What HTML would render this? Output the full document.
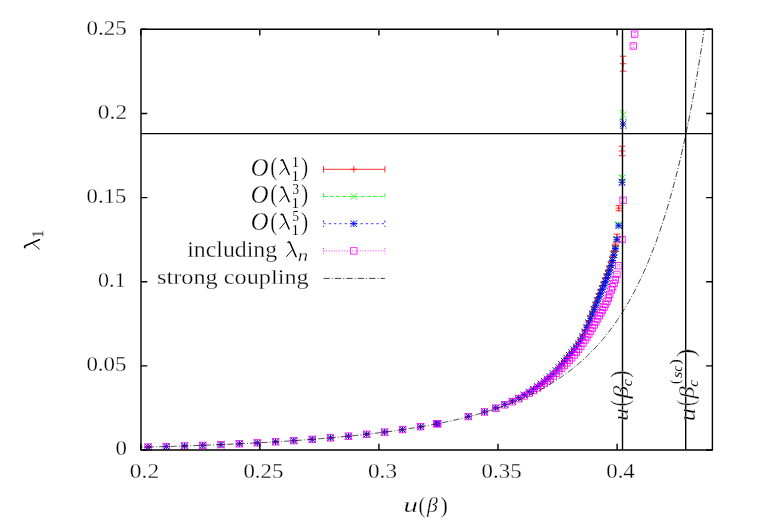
<!DOCTYPE html><html><head><meta charset="utf-8"><style>html,body{margin:0;padding:0;background:#fff}svg{display:block}text{font-family:"Liberation Serif",serif;fill:#000}</style></head><body>
<svg width="763" height="525" viewBox="0 0 763 525">
<rect width="763" height="525" fill="#fff"/>
<g fill="none" stroke-width="0.80">
<path d="M148.07,446.97V447.07M144.77,446.97H151.37M144.77,447.07H151.37" stroke="#ff0000"/><path d="M144.77,447.02H151.37M148.07,443.72V450.32" stroke="#ff0000"/><path d="M166.30,446.47V446.57M163.00,446.47H169.60M163.00,446.57H169.60" stroke="#ff0000"/><path d="M163.00,446.52H169.60M166.30,443.22V449.82" stroke="#ff0000"/><path d="M184.55,445.90V446.01M181.25,445.90H187.85M181.25,446.01H187.85" stroke="#ff0000"/><path d="M181.25,445.95H187.85M184.55,442.65V449.25" stroke="#ff0000"/><path d="M202.80,445.26V445.37M199.50,445.26H206.10M199.50,445.37H206.10" stroke="#ff0000"/><path d="M199.50,445.32H206.10M202.80,442.02V448.62" stroke="#ff0000"/><path d="M221.00,444.54V444.65M217.70,444.54H224.30M217.70,444.65H224.30" stroke="#ff0000"/><path d="M217.70,444.60H224.30M221.00,441.30V447.90" stroke="#ff0000"/><path d="M239.30,443.73V443.83M236.00,443.73H242.60M236.00,443.83H242.60" stroke="#ff0000"/><path d="M236.00,443.78H242.60M239.30,440.48V447.08" stroke="#ff0000"/><path d="M257.30,442.82V442.93M254.00,442.82H260.60M254.00,442.93H260.60" stroke="#ff0000"/><path d="M254.00,442.87H260.60M257.30,439.57V446.17" stroke="#ff0000"/><path d="M275.60,441.78V441.89M272.30,441.78H278.90M272.30,441.89H278.90" stroke="#ff0000"/><path d="M272.30,441.84H278.90M275.60,438.54V445.14" stroke="#ff0000"/><path d="M293.80,440.62V440.73M290.50,440.62H297.10M290.50,440.73H297.10" stroke="#ff0000"/><path d="M290.50,440.67H297.10M293.80,437.37V443.97" stroke="#ff0000"/><path d="M312.20,439.28V439.40M308.90,439.28H315.50M308.90,439.40H315.50" stroke="#ff0000"/><path d="M308.90,439.34H315.50M312.20,436.04V442.64" stroke="#ff0000"/><path d="M330.50,437.78V437.90M327.20,437.78H333.80M327.20,437.90H333.80" stroke="#ff0000"/><path d="M327.20,437.84H333.80M330.50,434.54V441.14" stroke="#ff0000"/><path d="M348.50,436.11V436.23M345.20,436.11H351.80M345.20,436.23H351.80" stroke="#ff0000"/><path d="M345.20,436.17H351.80M348.50,432.87V439.47" stroke="#ff0000"/><path d="M366.70,434.18V434.32M363.40,434.18H370.00M363.40,434.32H370.00" stroke="#ff0000"/><path d="M363.40,434.25H370.00M366.70,430.95V437.55" stroke="#ff0000"/><path d="M384.60,432.02V432.16M381.30,432.02H387.90M381.30,432.16H387.90" stroke="#ff0000"/><path d="M381.30,432.09H387.90M384.60,428.79V435.39" stroke="#ff0000"/><path d="M402.60,429.54V429.68M399.30,429.54H405.90M399.30,429.68H405.90" stroke="#ff0000"/><path d="M399.30,429.61H405.90M402.60,426.31V432.91" stroke="#ff0000"/><path d="M420.60,426.68V426.83M417.30,426.68H423.90M417.30,426.83H423.90" stroke="#ff0000"/><path d="M417.30,426.75H423.90M420.60,423.45V430.05" stroke="#ff0000"/><path d="M436.80,423.72V423.88M433.50,423.72H440.10M433.50,423.88H440.10" stroke="#ff0000"/><path d="M433.50,423.80H440.10M436.80,420.50V427.10" stroke="#ff0000"/><path d="M437.80,423.72V423.88M434.50,423.72H441.10M434.50,423.88H441.10" stroke="#ff0000"/><path d="M434.50,423.80H441.10M437.80,420.50V427.10" stroke="#ff0000"/><path d="M468.30,416.41V416.59M465.00,416.41H471.60M465.00,416.59H471.60" stroke="#ff0000"/><path d="M465.00,416.50H471.60M468.30,413.20V419.80" stroke="#ff0000"/><path d="M484.50,411.81V411.99M481.20,411.81H487.80M481.20,411.99H487.80" stroke="#ff0000"/><path d="M481.20,411.90H487.80M484.50,408.60V415.20" stroke="#ff0000"/><path d="M495.80,407.80V408.00M492.50,407.80H499.10M492.50,408.00H499.10" stroke="#ff0000"/><path d="M492.50,407.90H499.10M495.80,404.60V411.20" stroke="#ff0000"/><path d="M504.80,404.30V404.50M501.50,404.30H508.10M501.50,404.50H508.10" stroke="#ff0000"/><path d="M501.50,404.40H508.10M504.80,401.10V407.70" stroke="#ff0000"/><path d="M512.30,400.99V401.21M509.00,400.99H515.60M509.00,401.21H515.60" stroke="#ff0000"/><path d="M509.00,401.10H515.60M512.30,397.80V404.40" stroke="#ff0000"/><path d="M518.80,397.87V398.13M515.50,397.87H522.10M515.50,398.13H522.10" stroke="#ff0000"/><path d="M515.50,398.00H522.10M518.80,394.70V401.30" stroke="#ff0000"/><path d="M524.30,394.85V395.15M521.00,394.85H527.60M521.00,395.15H527.60" stroke="#ff0000"/><path d="M521.00,395.00H527.60M524.30,391.70V398.30" stroke="#ff0000"/><path d="M529.20,391.84V392.16M525.90,391.84H532.50M525.90,392.16H532.50" stroke="#ff0000"/><path d="M525.90,392.00H532.50M529.20,388.70V395.30" stroke="#ff0000"/><path d="M533.50,389.02V389.38M530.20,389.02H536.80M530.20,389.38H536.80" stroke="#ff0000"/><path d="M530.20,389.20H536.80M533.50,385.90V392.50" stroke="#ff0000"/><path d="M537.50,386.40V386.80M534.20,386.40H540.80M534.20,386.80H540.80" stroke="#ff0000"/><path d="M534.20,386.60H540.80M537.50,383.30V389.90" stroke="#ff0000"/><path d="M541.00,383.79V384.21M537.70,383.79H544.30M537.70,384.21H544.30" stroke="#ff0000"/><path d="M537.70,384.00H544.30M541.00,380.70V387.30" stroke="#ff0000"/><path d="M544.40,381.17V381.63M541.10,381.17H547.70M541.10,381.63H547.70" stroke="#ff0000"/><path d="M541.10,381.40H547.70M544.40,378.10V384.70" stroke="#ff0000"/><path d="M547.30,378.75V379.23M544.00,378.75H550.60M544.00,379.23H550.60" stroke="#ff0000"/><path d="M544.00,378.99H550.60M547.30,375.69V382.29" stroke="#ff0000"/><path d="M550.10,376.40V376.90M546.80,376.40H553.40M546.80,376.90H553.40" stroke="#ff0000"/><path d="M546.80,376.65H553.40M550.10,373.35V379.95" stroke="#ff0000"/><path d="M553.20,373.34V373.87M549.90,373.34H556.50M549.90,373.87H556.50" stroke="#ff0000"/><path d="M549.90,373.61H556.50M553.20,370.31V376.91" stroke="#ff0000"/><path d="M556.10,370.21V370.77M552.80,370.21H559.40M552.80,370.77H559.40" stroke="#ff0000"/><path d="M552.80,370.49H559.40M556.10,367.19V373.79" stroke="#ff0000"/><path d="M558.90,367.01V367.60M555.60,367.01H562.20M555.60,367.60H562.20" stroke="#ff0000"/><path d="M555.60,367.30H562.20M558.90,364.00V370.60" stroke="#ff0000"/><path d="M561.60,363.81V364.43M558.30,363.81H564.90M558.30,364.43H564.90" stroke="#ff0000"/><path d="M558.30,364.12H564.90M561.60,360.82V367.42" stroke="#ff0000"/><path d="M564.30,360.54V361.19M561.00,360.54H567.60M561.00,361.19H567.60" stroke="#ff0000"/><path d="M561.00,360.86H567.60M564.30,357.56V364.16" stroke="#ff0000"/><path d="M566.90,357.39V358.06M563.60,357.39H570.20M563.60,358.06H570.20" stroke="#ff0000"/><path d="M563.60,357.72H570.20M566.90,354.42V361.02" stroke="#ff0000"/><path d="M569.40,354.41V355.11M566.10,354.41H572.70M566.10,355.11H572.70" stroke="#ff0000"/><path d="M566.10,354.76H572.70M569.40,351.46V358.06" stroke="#ff0000"/><path d="M571.70,351.64V352.36M568.40,351.64H575.00M568.40,352.36H575.00" stroke="#ff0000"/><path d="M568.40,352.00H575.00M571.70,348.70V355.30" stroke="#ff0000"/><path d="M574.10,348.61V349.37M570.80,348.61H577.40M570.80,349.37H577.40" stroke="#ff0000"/><path d="M570.80,348.99H577.40M574.10,345.69V352.29" stroke="#ff0000"/><path d="M576.40,345.50V346.29M573.10,345.50H579.70M573.10,346.29H579.70" stroke="#ff0000"/><path d="M573.10,345.90H579.70M576.40,342.60V349.20" stroke="#ff0000"/><path d="M578.60,342.25V343.07M575.30,342.25H581.90M575.30,343.07H581.90" stroke="#ff0000"/><path d="M575.30,342.66H581.90M578.60,339.36V345.96" stroke="#ff0000"/><path d="M580.80,338.64V339.50M577.50,338.64H584.10M577.50,339.50H584.10" stroke="#ff0000"/><path d="M577.50,339.07H584.10M580.80,335.77V342.37" stroke="#ff0000"/><path d="M582.90,334.62V335.50M579.60,334.62H586.20M579.60,335.50H586.20" stroke="#ff0000"/><path d="M579.60,335.06H586.20M582.90,331.76V338.36" stroke="#ff0000"/><path d="M585.00,329.89V330.81M581.70,329.89H588.30M581.70,330.81H588.30" stroke="#ff0000"/><path d="M581.70,330.35H588.30M585.00,327.05V333.65" stroke="#ff0000"/><path d="M586.90,325.24V326.19M583.60,325.24H590.20M583.60,326.19H590.20" stroke="#ff0000"/><path d="M583.60,325.72H590.20M586.90,322.42V329.02" stroke="#ff0000"/><path d="M588.80,320.48V321.46M585.50,320.48H592.10M585.50,321.46H592.10" stroke="#ff0000"/><path d="M585.50,320.97H592.10M588.80,317.67V324.27" stroke="#ff0000"/><path d="M590.64,315.92V316.93M587.34,315.92H593.94M587.34,316.93H593.94" stroke="#ff0000"/><path d="M587.34,316.42H593.94M590.64,313.12V319.72" stroke="#ff0000"/><path d="M592.44,311.30V312.34M589.14,311.30H595.74M589.14,312.34H595.74" stroke="#ff0000"/><path d="M589.14,311.82H595.74M592.44,308.52V315.12" stroke="#ff0000"/><path d="M594.21,306.64V307.72M590.91,306.64H597.51M590.91,307.72H597.51" stroke="#ff0000"/><path d="M590.91,307.18H597.51M594.21,303.88V310.48" stroke="#ff0000"/><path d="M595.93,302.04V303.15M592.63,302.04H599.23M592.63,303.15H599.23" stroke="#ff0000"/><path d="M592.63,302.59H599.23M595.93,299.29V305.89" stroke="#ff0000"/><path d="M597.62,297.59V298.74M594.32,297.59H600.92M594.32,298.74H600.92" stroke="#ff0000"/><path d="M594.32,298.17H600.92M597.62,294.87V301.47" stroke="#ff0000"/><path d="M599.28,293.37V294.55M595.98,293.37H602.58M595.98,294.55H602.58" stroke="#ff0000"/><path d="M595.98,293.96H602.58M599.28,290.66V297.26" stroke="#ff0000"/><path d="M600.89,289.31V290.53M597.59,289.31H604.19M597.59,290.53H604.19" stroke="#ff0000"/><path d="M597.59,289.92H604.19M600.89,286.62V293.22" stroke="#ff0000"/><path d="M602.47,285.33V286.57M599.17,285.33H605.77M599.17,286.57H605.77" stroke="#ff0000"/><path d="M599.17,285.95H605.77M602.47,282.65V289.25" stroke="#ff0000"/><path d="M604.01,281.39V282.67M600.71,281.39H607.31M600.71,282.67H607.31" stroke="#ff0000"/><path d="M600.71,282.03H607.31M604.01,278.73V285.33" stroke="#ff0000"/><path d="M605.51,277.51V278.81M602.21,277.51H608.81M602.21,278.81H608.81" stroke="#ff0000"/><path d="M602.21,278.16H608.81M605.51,274.86V281.46" stroke="#ff0000"/><path d="M606.98,273.74V275.08M603.68,273.74H610.28M603.68,275.08H610.28" stroke="#ff0000"/><path d="M603.68,274.41H610.28M606.98,271.11V277.71" stroke="#ff0000"/><path d="M608.41,269.88V271.27M605.11,269.88H611.71M605.11,271.27H611.71" stroke="#ff0000"/><path d="M605.11,270.58H611.71M608.41,267.28V273.88" stroke="#ff0000"/><path d="M609.80,265.68V267.12M606.50,265.68H613.10M606.50,267.12H613.10" stroke="#ff0000"/><path d="M606.50,266.40H613.10M609.80,263.10V269.70" stroke="#ff0000"/><path d="M611.20,261.14V262.66M607.90,261.14H614.50M607.90,262.66H614.50" stroke="#ff0000"/><path d="M607.90,261.90H614.50M611.20,258.60V265.20" stroke="#ff0000"/><path d="M612.60,256.10V257.70M609.30,256.10H615.90M609.30,257.70H615.90" stroke="#ff0000"/><path d="M609.30,256.90H615.90M612.60,253.60V260.20" stroke="#ff0000"/><path d="M614.00,250.60V252.42M610.70,250.60H617.30M610.70,252.42H617.30" stroke="#ff0000"/><path d="M610.70,251.51H617.30M614.00,248.21V254.81" stroke="#ff0000"/><path d="M615.40,244.10V246.50M612.10,244.10H618.70M612.10,246.50H618.70" stroke="#ff0000"/><path d="M612.10,245.30H618.70M615.40,242.00V248.60" stroke="#ff0000"/><path d="M616.90,234.10V241.10M613.60,234.10H620.20M613.60,241.10H620.20" stroke="#ff0000"/><path d="M613.60,237.60H620.20M616.90,234.30V240.90" stroke="#ff0000"/><path d="M618.80,205.45V210.75M615.50,205.45H622.10M615.50,210.75H622.10" stroke="#ff0000"/><path d="M615.50,208.10H622.10M618.80,204.80V211.40" stroke="#ff0000"/><path d="M622.00,146.25V155.75M618.70,146.25H625.30M618.70,155.75H625.30" stroke="#ff0000"/><path d="M618.70,151.00H625.30M622.00,147.70V154.30" stroke="#ff0000"/><path d="M623.10,56.20V71.20M619.80,56.20H626.40M619.80,71.20H626.40" stroke="#ff0000"/><path d="M619.80,63.70H626.40M623.10,60.40V67.00" stroke="#ff0000"/><path d="M144.77,443.72L151.37,450.32M144.77,450.32L151.37,443.72" stroke="#00ff00"/><path d="M163.00,443.22L169.60,449.82M163.00,449.82L169.60,443.22" stroke="#00ff00"/><path d="M181.25,442.65L187.85,449.25M181.25,449.25L187.85,442.65" stroke="#00ff00"/><path d="M199.50,442.02L206.10,448.62M199.50,448.62L206.10,442.02" stroke="#00ff00"/><path d="M217.70,441.30L224.30,447.90M217.70,447.90L224.30,441.30" stroke="#00ff00"/><path d="M236.00,440.48L242.60,447.08M236.00,447.08L242.60,440.48" stroke="#00ff00"/><path d="M254.00,439.57L260.60,446.17M254.00,446.17L260.60,439.57" stroke="#00ff00"/><path d="M272.30,438.54L278.90,445.14M272.30,445.14L278.90,438.54" stroke="#00ff00"/><path d="M290.50,437.37L297.10,443.97M290.50,443.97L297.10,437.37" stroke="#00ff00"/><path d="M308.90,436.04L315.50,442.64M308.90,442.64L315.50,436.04" stroke="#00ff00"/><path d="M327.20,434.54L333.80,441.14M327.20,441.14L333.80,434.54" stroke="#00ff00"/><path d="M345.20,432.87L351.80,439.47M345.20,439.47L351.80,432.87" stroke="#00ff00"/><path d="M363.40,430.95L370.00,437.55M363.40,437.55L370.00,430.95" stroke="#00ff00"/><path d="M381.30,428.79L387.90,435.39M381.30,435.39L387.90,428.79" stroke="#00ff00"/><path d="M399.30,426.31L405.90,432.91M399.30,432.91L405.90,426.31" stroke="#00ff00"/><path d="M417.30,423.45L423.90,430.05M417.30,430.05L423.90,423.45" stroke="#00ff00"/><path d="M433.50,420.50L440.10,427.10M433.50,427.10L440.10,420.50" stroke="#00ff00"/><path d="M434.50,420.50L441.10,427.10M434.50,427.10L441.10,420.50" stroke="#00ff00"/><path d="M465.00,413.20L471.60,419.80M465.00,419.80L471.60,413.20" stroke="#00ff00"/><path d="M481.20,408.60L487.80,415.20M481.20,415.20L487.80,408.60" stroke="#00ff00"/><path d="M492.50,404.60L499.10,411.20M492.50,411.20L499.10,404.60" stroke="#00ff00"/><path d="M501.50,401.10L508.10,407.70M501.50,407.70L508.10,401.10" stroke="#00ff00"/><path d="M509.00,397.80L515.60,404.40M509.00,404.40L515.60,397.80" stroke="#00ff00"/><path d="M515.50,394.70L522.10,401.30M515.50,401.30L522.10,394.70" stroke="#00ff00"/><path d="M521.00,391.70L527.60,398.30M521.00,398.30L527.60,391.70" stroke="#00ff00"/><path d="M525.90,388.70L532.50,395.30M525.90,395.30L532.50,388.70" stroke="#00ff00"/><path d="M530.20,385.90L536.80,392.50M530.20,392.50L536.80,385.90" stroke="#00ff00"/><path d="M534.20,383.30L540.80,389.90M534.20,389.90L540.80,383.30" stroke="#00ff00"/><path d="M537.70,380.70L544.30,387.30M537.70,387.30L544.30,380.70" stroke="#00ff00"/><path d="M541.10,378.10L547.70,384.70M541.10,384.70L547.70,378.10" stroke="#00ff00"/><path d="M544.00,375.70L550.60,382.30M544.00,382.30L550.60,375.70" stroke="#00ff00"/><path d="M546.80,373.40L553.40,380.00M546.80,380.00L553.40,373.40" stroke="#00ff00"/><path d="M549.90,370.42L556.50,377.02M549.90,377.02L556.50,370.42" stroke="#00ff00"/><path d="M552.80,367.38L559.40,373.98M552.80,373.98L559.40,367.38" stroke="#00ff00"/><path d="M555.60,364.27L562.20,370.87M555.60,370.87L562.20,364.27" stroke="#00ff00"/><path d="M558.30,361.17L564.90,367.77M558.30,367.77L564.90,361.17" stroke="#00ff00"/><path d="M561.00,358.00L567.60,364.60M561.00,364.60L567.60,358.00" stroke="#00ff00"/><path d="M563.60,354.95L570.20,361.55M563.60,361.55L570.20,354.95" stroke="#00ff00"/><path d="M566.10,352.09L572.70,358.69M566.10,358.69L572.70,352.09" stroke="#00ff00"/><path d="M568.40,349.44L575.00,356.04M568.40,356.04L575.00,349.44" stroke="#00ff00"/><path d="M570.80,346.55L577.40,353.15M570.80,353.15L577.40,346.55" stroke="#00ff00"/><path d="M573.10,343.57L579.70,350.17M573.10,350.17L579.70,343.57" stroke="#00ff00"/><path d="M575.30,340.47L581.90,347.07M575.30,347.07L581.90,340.47" stroke="#00ff00"/><path d="M577.50,337.03L584.10,343.63M577.50,343.63L584.10,337.03" stroke="#00ff00"/><path d="M579.60,333.18L586.20,339.78M579.60,339.78L586.20,333.18" stroke="#00ff00"/><path d="M581.70,328.63L588.30,335.23M581.70,335.23L588.30,328.63" stroke="#00ff00"/><path d="M583.60,324.16L590.20,330.76M583.60,330.76L590.20,324.16" stroke="#00ff00"/><path d="M585.50,319.56L592.10,326.16M585.50,326.16L592.10,319.56" stroke="#00ff00"/><path d="M587.34,315.18L593.94,321.78M587.34,321.78L593.94,315.18" stroke="#00ff00"/><path d="M592.44,313.75V314.35M589.14,313.75H595.74M589.14,314.35H595.74" stroke="#00ff00" stroke-dasharray="4.2,2" stroke-width="0.6"/><path d="M589.14,310.75L595.74,317.35M589.14,317.35L595.74,310.75" stroke="#00ff00"/><path d="M594.21,309.27V309.90M590.91,309.27H597.51M590.91,309.90H597.51" stroke="#00ff00" stroke-dasharray="4.2,2" stroke-width="0.6"/><path d="M590.91,306.28L597.51,312.88M590.91,312.88L597.51,306.28" stroke="#00ff00"/><path d="M595.93,304.86V305.51M592.63,304.86H599.23M592.63,305.51H599.23" stroke="#00ff00" stroke-dasharray="4.2,2" stroke-width="0.6"/><path d="M592.63,301.88L599.23,308.48M592.63,308.48L599.23,301.88" stroke="#00ff00"/><path d="M597.62,300.60V301.27M594.32,300.60H600.92M594.32,301.27H600.92" stroke="#00ff00" stroke-dasharray="4.2,2" stroke-width="0.6"/><path d="M594.32,297.63L600.92,304.23M594.32,304.23L600.92,297.63" stroke="#00ff00"/><path d="M599.28,296.55V297.23M595.98,296.55H602.58M595.98,297.23H602.58" stroke="#00ff00" stroke-dasharray="4.2,2" stroke-width="0.6"/><path d="M595.98,293.59L602.58,300.19M595.98,300.19L602.58,293.59" stroke="#00ff00"/><path d="M600.89,292.65V293.36M597.59,292.65H604.19M597.59,293.36H604.19" stroke="#00ff00" stroke-dasharray="4.2,2" stroke-width="0.6"/><path d="M597.59,289.71L604.19,296.31M597.59,296.31L604.19,289.71" stroke="#00ff00"/><path d="M602.47,288.85V289.57M599.17,288.85H605.77M599.17,289.57H605.77" stroke="#00ff00" stroke-dasharray="4.2,2" stroke-width="0.6"/><path d="M599.17,285.91L605.77,292.51M599.17,292.51L605.77,285.91" stroke="#00ff00"/><path d="M604.01,285.07V285.82M600.71,285.07H607.31M600.71,285.82H607.31" stroke="#00ff00" stroke-dasharray="4.2,2" stroke-width="0.6"/><path d="M600.71,282.14L607.31,288.74M600.71,288.74L607.31,282.14" stroke="#00ff00"/><path d="M605.51,281.30V282.05M602.21,281.30H608.81M602.21,282.05H608.81" stroke="#00ff00" stroke-dasharray="4.2,2" stroke-width="0.6"/><path d="M602.21,278.37L608.81,284.97M602.21,284.97L608.81,278.37" stroke="#00ff00"/><path d="M606.98,277.55V278.33M603.68,277.55H610.28M603.68,278.33H610.28" stroke="#00ff00" stroke-dasharray="4.2,2" stroke-width="0.6"/><path d="M603.68,274.64L610.28,281.24M603.68,281.24L610.28,274.64" stroke="#00ff00"/><path d="M608.41,273.67V274.48M605.11,273.67H611.71M605.11,274.48H611.71" stroke="#00ff00" stroke-dasharray="4.2,2" stroke-width="0.6"/><path d="M605.11,270.78L611.71,277.38M605.11,277.38L611.71,270.78" stroke="#00ff00"/><path d="M609.80,269.44V270.28M606.50,269.44H613.10M606.50,270.28H613.10" stroke="#00ff00" stroke-dasharray="4.2,2" stroke-width="0.6"/><path d="M606.50,266.56L613.10,273.16M606.50,273.16L613.10,266.56" stroke="#00ff00"/><path d="M611.20,264.87V265.75M607.90,264.87H614.50M607.90,265.75H614.50" stroke="#00ff00" stroke-dasharray="4.2,2" stroke-width="0.6"/><path d="M607.90,262.01L614.50,268.61M607.90,268.61L614.50,262.01" stroke="#00ff00"/><path d="M612.60,259.79V260.71M609.30,259.79H615.90M609.30,260.71H615.90" stroke="#00ff00" stroke-dasharray="4.2,2" stroke-width="0.6"/><path d="M609.30,256.95L615.90,263.55M609.30,263.55L615.90,256.95" stroke="#00ff00"/><path d="M614.00,254.15V255.21M610.70,254.15H617.30M610.70,255.21H617.30" stroke="#00ff00" stroke-dasharray="4.2,2" stroke-width="0.6"/><path d="M610.70,251.38L617.30,257.98M610.70,257.98L617.30,251.38" stroke="#00ff00"/><path d="M615.40,247.40V248.80M612.10,247.40H618.70M612.10,248.80H618.70" stroke="#00ff00" stroke-dasharray="4.2,2" stroke-width="0.6"/><path d="M612.10,244.80L618.70,251.40M612.10,251.40L618.70,244.80" stroke="#00ff00"/><path d="M616.90,237.07V241.13M613.60,237.07H620.20M613.60,241.13H620.20" stroke="#00ff00" stroke-dasharray="4.2,2" stroke-width="0.6"/><path d="M613.60,235.80L620.20,242.40M613.60,242.40L620.20,235.80" stroke="#00ff00"/><path d="M618.80,222.96V226.04M615.50,222.96H622.10M615.50,226.04H622.10" stroke="#00ff00" stroke-dasharray="4.2,2" stroke-width="0.6"/><path d="M615.50,221.20L622.10,227.80M615.50,227.80L622.10,221.20" stroke="#00ff00"/><path d="M622.00,175.35V180.86M618.70,175.35H625.30M618.70,180.86H625.30" stroke="#00ff00" stroke-dasharray="4.2,2" stroke-width="0.6"/><path d="M618.70,174.80L625.30,181.40M618.70,181.40L625.30,174.80" stroke="#00ff00"/><path d="M623.10,110.35V119.05M619.80,110.35H626.40M619.80,119.05H626.40" stroke="#00ff00" stroke-dasharray="4.2,2" stroke-width="0.6"/><path d="M619.80,111.40L626.40,118.00M619.80,118.00L626.40,111.40" stroke="#00ff00"/><path d="M144.77,447.02H151.37M148.07,443.72V450.32M144.77,443.72L151.37,450.32M144.77,450.32L151.37,443.72" stroke="#0000ff" stroke-width="0.92"/><path d="M163.00,446.52H169.60M166.30,443.22V449.82M163.00,443.22L169.60,449.82M163.00,449.82L169.60,443.22" stroke="#0000ff" stroke-width="0.92"/><path d="M181.25,445.95H187.85M184.55,442.65V449.25M181.25,442.65L187.85,449.25M181.25,449.25L187.85,442.65" stroke="#0000ff" stroke-width="0.92"/><path d="M199.50,445.32H206.10M202.80,442.02V448.62M199.50,442.02L206.10,448.62M199.50,448.62L206.10,442.02" stroke="#0000ff" stroke-width="0.92"/><path d="M217.70,444.60H224.30M221.00,441.30V447.90M217.70,441.30L224.30,447.90M217.70,447.90L224.30,441.30" stroke="#0000ff" stroke-width="0.92"/><path d="M236.00,443.78H242.60M239.30,440.48V447.08M236.00,440.48L242.60,447.08M236.00,447.08L242.60,440.48" stroke="#0000ff" stroke-width="0.92"/><path d="M254.00,442.87H260.60M257.30,439.57V446.17M254.00,439.57L260.60,446.17M254.00,446.17L260.60,439.57" stroke="#0000ff" stroke-width="0.92"/><path d="M272.30,441.84H278.90M275.60,438.54V445.14M272.30,438.54L278.90,445.14M272.30,445.14L278.90,438.54" stroke="#0000ff" stroke-width="0.92"/><path d="M290.50,440.67H297.10M293.80,437.37V443.97M290.50,437.37L297.10,443.97M290.50,443.97L297.10,437.37" stroke="#0000ff" stroke-width="0.92"/><path d="M308.90,439.34H315.50M312.20,436.04V442.64M308.90,436.04L315.50,442.64M308.90,442.64L315.50,436.04" stroke="#0000ff" stroke-width="0.92"/><path d="M327.20,437.84H333.80M330.50,434.54V441.14M327.20,434.54L333.80,441.14M327.20,441.14L333.80,434.54" stroke="#0000ff" stroke-width="0.92"/><path d="M345.20,436.17H351.80M348.50,432.87V439.47M345.20,432.87L351.80,439.47M345.20,439.47L351.80,432.87" stroke="#0000ff" stroke-width="0.92"/><path d="M363.40,434.25H370.00M366.70,430.95V437.55M363.40,430.95L370.00,437.55M363.40,437.55L370.00,430.95" stroke="#0000ff" stroke-width="0.92"/><path d="M381.30,432.09H387.90M384.60,428.79V435.39M381.30,428.79L387.90,435.39M381.30,435.39L387.90,428.79" stroke="#0000ff" stroke-width="0.92"/><path d="M399.30,429.61H405.90M402.60,426.31V432.91M399.30,426.31L405.90,432.91M399.30,432.91L405.90,426.31" stroke="#0000ff" stroke-width="0.92"/><path d="M417.30,426.75H423.90M420.60,423.45V430.05M417.30,423.45L423.90,430.05M417.30,430.05L423.90,423.45" stroke="#0000ff" stroke-width="0.92"/><path d="M433.50,423.80H440.10M436.80,420.50V427.10M433.50,420.50L440.10,427.10M433.50,427.10L440.10,420.50" stroke="#0000ff" stroke-width="0.92"/><path d="M434.50,423.80H441.10M437.80,420.50V427.10M434.50,420.50L441.10,427.10M434.50,427.10L441.10,420.50" stroke="#0000ff" stroke-width="0.92"/><path d="M465.00,416.50H471.60M468.30,413.20V419.80M465.00,413.20L471.60,419.80M465.00,419.80L471.60,413.20" stroke="#0000ff" stroke-width="0.92"/><path d="M481.20,411.90H487.80M484.50,408.60V415.20M481.20,408.60L487.80,415.20M481.20,415.20L487.80,408.60" stroke="#0000ff" stroke-width="0.92"/><path d="M492.50,407.90H499.10M495.80,404.60V411.20M492.50,404.60L499.10,411.20M492.50,411.20L499.10,404.60" stroke="#0000ff" stroke-width="0.92"/><path d="M501.50,404.40H508.10M504.80,401.10V407.70M501.50,401.10L508.10,407.70M501.50,407.70L508.10,401.10" stroke="#0000ff" stroke-width="0.92"/><path d="M509.00,401.10H515.60M512.30,397.80V404.40M509.00,397.80L515.60,404.40M509.00,404.40L515.60,397.80" stroke="#0000ff" stroke-width="0.92"/><path d="M515.50,398.00H522.10M518.80,394.70V401.30M515.50,394.70L522.10,401.30M515.50,401.30L522.10,394.70" stroke="#0000ff" stroke-width="0.92"/><path d="M521.00,395.00H527.60M524.30,391.70V398.30M521.00,391.70L527.60,398.30M521.00,398.30L527.60,391.70" stroke="#0000ff" stroke-width="0.92"/><path d="M525.90,392.00H532.50M529.20,388.70V395.30M525.90,388.70L532.50,395.30M525.90,395.30L532.50,388.70" stroke="#0000ff" stroke-width="0.92"/><path d="M530.20,389.20H536.80M533.50,385.90V392.50M530.20,385.90L536.80,392.50M530.20,392.50L536.80,385.90" stroke="#0000ff" stroke-width="0.92"/><path d="M534.20,386.60H540.80M537.50,383.30V389.90M534.20,383.30L540.80,389.90M534.20,389.90L540.80,383.30" stroke="#0000ff" stroke-width="0.92"/><path d="M537.70,384.00H544.30M541.00,380.70V387.30M537.70,380.70L544.30,387.30M537.70,387.30L544.30,380.70" stroke="#0000ff" stroke-width="0.92"/><path d="M541.10,381.40H547.70M544.40,378.10V384.70M541.10,378.10L547.70,384.70M541.10,384.70L547.70,378.10" stroke="#0000ff" stroke-width="0.92"/><path d="M544.00,379.00H550.60M547.30,375.70V382.30M544.00,375.70L550.60,382.30M544.00,382.30L550.60,375.70" stroke="#0000ff" stroke-width="0.92"/><path d="M546.80,376.70H553.40M550.10,373.40V380.00M546.80,373.40L553.40,380.00M546.80,380.00L553.40,373.40" stroke="#0000ff" stroke-width="0.92"/><path d="M549.90,373.72H556.50M553.20,370.42V377.02M549.90,370.42L556.50,377.02M549.90,377.02L556.50,370.42" stroke="#0000ff" stroke-width="0.92"/><path d="M552.80,370.68H559.40M556.10,367.38V373.98M552.80,367.38L559.40,373.98M552.80,373.98L559.40,367.38" stroke="#0000ff" stroke-width="0.92"/><path d="M555.60,367.57H562.20M558.90,364.27V370.87M555.60,364.27L562.20,370.87M555.60,370.87L562.20,364.27" stroke="#0000ff" stroke-width="0.92"/><path d="M558.30,364.47H564.90M561.60,361.17V367.77M558.30,361.17L564.90,367.77M558.30,367.77L564.90,361.17" stroke="#0000ff" stroke-width="0.92"/><path d="M561.00,361.30H567.60M564.30,358.00V364.60M561.00,358.00L567.60,364.60M561.00,364.60L567.60,358.00" stroke="#0000ff" stroke-width="0.92"/><path d="M563.60,358.25H570.20M566.90,354.95V361.55M563.60,354.95L570.20,361.55M563.60,361.55L570.20,354.95" stroke="#0000ff" stroke-width="0.92"/><path d="M566.10,355.39H572.70M569.40,352.09V358.69M566.10,352.09L572.70,358.69M566.10,358.69L572.70,352.09" stroke="#0000ff" stroke-width="0.92"/><path d="M568.40,352.74H575.00M571.70,349.44V356.04M568.40,349.44L575.00,356.04M568.40,356.04L575.00,349.44" stroke="#0000ff" stroke-width="0.92"/><path d="M570.80,349.85H577.40M574.10,346.55V353.15M570.80,346.55L577.40,353.15M570.80,353.15L577.40,346.55" stroke="#0000ff" stroke-width="0.92"/><path d="M573.10,346.87H579.70M576.40,343.57V350.17M573.10,343.57L579.70,350.17M573.10,350.17L579.70,343.57" stroke="#0000ff" stroke-width="0.92"/><path d="M575.30,343.77H581.90M578.60,340.47V347.07M575.30,340.47L581.90,347.07M575.30,347.07L581.90,340.47" stroke="#0000ff" stroke-width="0.92"/><path d="M577.50,340.33H584.10M580.80,337.03V343.63M577.50,337.03L584.10,343.63M577.50,343.63L584.10,337.03" stroke="#0000ff" stroke-width="0.92"/><path d="M579.60,336.48H586.20M582.90,333.18V339.78M579.60,333.18L586.20,339.78M579.60,339.78L586.20,333.18" stroke="#0000ff" stroke-width="0.92"/><path d="M581.70,331.93H588.30M585.00,328.63V335.23M581.70,328.63L588.30,335.23M581.70,335.23L588.30,328.63" stroke="#0000ff" stroke-width="0.92"/><path d="M583.60,327.46H590.20M586.90,324.16V330.76M583.60,324.16L590.20,330.76M583.60,330.76L590.20,324.16" stroke="#0000ff" stroke-width="0.92"/><path d="M585.50,322.86H592.10M588.80,319.56V326.16M585.50,319.56L592.10,326.16M585.50,326.16L592.10,319.56" stroke="#0000ff" stroke-width="0.92"/><path d="M587.34,318.48H593.94M590.64,315.18V321.78M587.34,315.18L593.94,321.78M587.34,321.78L593.94,315.18" stroke="#0000ff" stroke-width="0.92"/><path d="M592.44,313.75V314.35M589.14,313.75H595.74M589.14,314.35H595.74" stroke="#0000ff" stroke-dasharray="2.2,3.1" stroke-width="0.6"/><path d="M589.14,314.05H595.74M592.44,310.75V317.35M589.14,310.75L595.74,317.35M589.14,317.35L595.74,310.75" stroke="#0000ff" stroke-width="0.92"/><path d="M594.21,309.27V309.90M590.91,309.27H597.51M590.91,309.90H597.51" stroke="#0000ff" stroke-dasharray="2.2,3.1" stroke-width="0.6"/><path d="M590.91,309.58H597.51M594.21,306.28V312.88M590.91,306.28L597.51,312.88M590.91,312.88L597.51,306.28" stroke="#0000ff" stroke-width="0.92"/><path d="M595.93,304.86V305.51M592.63,304.86H599.23M592.63,305.51H599.23" stroke="#0000ff" stroke-dasharray="2.2,3.1" stroke-width="0.6"/><path d="M592.63,305.18H599.23M595.93,301.88V308.48M592.63,301.88L599.23,308.48M592.63,308.48L599.23,301.88" stroke="#0000ff" stroke-width="0.92"/><path d="M597.62,300.60V301.27M594.32,300.60H600.92M594.32,301.27H600.92" stroke="#0000ff" stroke-dasharray="2.2,3.1" stroke-width="0.6"/><path d="M594.32,300.93H600.92M597.62,297.63V304.23M594.32,297.63L600.92,304.23M594.32,304.23L600.92,297.63" stroke="#0000ff" stroke-width="0.92"/><path d="M599.28,296.55V297.23M595.98,296.55H602.58M595.98,297.23H602.58" stroke="#0000ff" stroke-dasharray="2.2,3.1" stroke-width="0.6"/><path d="M595.98,296.89H602.58M599.28,293.59V300.19M595.98,293.59L602.58,300.19M595.98,300.19L602.58,293.59" stroke="#0000ff" stroke-width="0.92"/><path d="M600.89,292.65V293.36M597.59,292.65H604.19M597.59,293.36H604.19" stroke="#0000ff" stroke-dasharray="2.2,3.1" stroke-width="0.6"/><path d="M597.59,293.01H604.19M600.89,289.71V296.31M597.59,289.71L604.19,296.31M597.59,296.31L604.19,289.71" stroke="#0000ff" stroke-width="0.92"/><path d="M602.47,288.85V289.58M599.17,288.85H605.77M599.17,289.58H605.77" stroke="#0000ff" stroke-dasharray="2.2,3.1" stroke-width="0.6"/><path d="M599.17,289.22H605.77M602.47,285.92V292.52M599.17,285.92L605.77,292.52M599.17,292.52L605.77,285.92" stroke="#0000ff" stroke-width="0.92"/><path d="M604.01,285.09V285.83M600.71,285.09H607.31M600.71,285.83H607.31" stroke="#0000ff" stroke-dasharray="2.2,3.1" stroke-width="0.6"/><path d="M600.71,285.46H607.31M604.01,282.16V288.76M600.71,282.16L607.31,288.76M600.71,288.76L607.31,282.16" stroke="#0000ff" stroke-width="0.92"/><path d="M605.51,281.33V282.09M602.21,281.33H608.81M602.21,282.09H608.81" stroke="#0000ff" stroke-dasharray="2.2,3.1" stroke-width="0.6"/><path d="M602.21,281.71H608.81M605.51,278.41V285.01M602.21,278.41L608.81,285.01M602.21,285.01L608.81,278.41" stroke="#0000ff" stroke-width="0.92"/><path d="M606.98,277.62V278.40M603.68,277.62H610.28M603.68,278.40H610.28" stroke="#0000ff" stroke-dasharray="2.2,3.1" stroke-width="0.6"/><path d="M603.68,278.01H610.28M606.98,274.71V281.31M603.68,274.71L610.28,281.31M603.68,281.31L610.28,274.71" stroke="#0000ff" stroke-width="0.92"/><path d="M608.41,273.77V274.58M605.11,273.77H611.71M605.11,274.58H611.71" stroke="#0000ff" stroke-dasharray="2.2,3.1" stroke-width="0.6"/><path d="M605.11,274.18H611.71M608.41,270.88V277.48M605.11,270.88L611.71,277.48M605.11,277.48L611.71,270.88" stroke="#0000ff" stroke-width="0.92"/><path d="M609.80,269.58V270.42M606.50,269.58H613.10M606.50,270.42H613.10" stroke="#0000ff" stroke-dasharray="2.2,3.1" stroke-width="0.6"/><path d="M606.50,270.00H613.10M609.80,266.70V273.30M606.50,266.70L613.10,273.30M606.50,273.30L613.10,266.70" stroke="#0000ff" stroke-width="0.92"/><path d="M611.20,265.06V265.94M607.90,265.06H614.50M607.90,265.94H614.50" stroke="#0000ff" stroke-dasharray="2.2,3.1" stroke-width="0.6"/><path d="M607.90,265.50H614.50M611.20,262.20V268.80M607.90,262.20L614.50,268.80M607.90,268.80L614.50,262.20" stroke="#0000ff" stroke-width="0.92"/><path d="M612.60,260.04V260.96M609.30,260.04H615.90M609.30,260.96H615.90" stroke="#0000ff" stroke-dasharray="2.2,3.1" stroke-width="0.6"/><path d="M609.30,260.50H615.90M612.60,257.20V263.80M609.30,257.20L615.90,263.80M609.30,263.80L615.90,257.20" stroke="#0000ff" stroke-width="0.92"/><path d="M614.00,254.47V255.53M610.70,254.47H617.30M610.70,255.53H617.30" stroke="#0000ff" stroke-dasharray="2.2,3.1" stroke-width="0.6"/><path d="M610.70,255.00H617.30M614.00,251.70V258.30M610.70,251.70L617.30,258.30M610.70,258.30L617.30,251.70" stroke="#0000ff" stroke-width="0.92"/><path d="M615.40,247.80V249.20M612.10,247.80H618.70M612.10,249.20H618.70" stroke="#0000ff" stroke-dasharray="2.2,3.1" stroke-width="0.6"/><path d="M612.10,248.50H618.70M615.40,245.20V251.80M612.10,245.20L618.70,251.80M612.10,251.80L618.70,245.20" stroke="#0000ff" stroke-width="0.92"/><path d="M616.90,237.57V241.63M613.60,237.57H620.20M613.60,241.63H620.20" stroke="#0000ff" stroke-dasharray="2.2,3.1" stroke-width="0.6"/><path d="M613.60,239.60H620.20M616.90,236.30V242.90M613.60,236.30L620.20,242.90M613.60,242.90L620.20,236.30" stroke="#0000ff" stroke-width="0.92"/><path d="M618.80,224.16V227.24M615.50,224.16H622.10M615.50,227.24H622.10" stroke="#0000ff" stroke-dasharray="2.2,3.1" stroke-width="0.6"/><path d="M615.50,225.70H622.10M618.80,222.40V229.00M615.50,222.40L622.10,229.00M615.50,229.00L622.10,222.40" stroke="#0000ff" stroke-width="0.92"/><path d="M622.00,179.55V185.06M618.70,179.55H625.30M618.70,185.06H625.30" stroke="#0000ff" stroke-dasharray="2.2,3.1" stroke-width="0.6"/><path d="M618.70,182.30H625.30M622.00,179.00V185.60M618.70,179.00L625.30,185.60M618.70,185.60L625.30,179.00" stroke="#0000ff" stroke-width="0.92"/><path d="M623.10,119.65V128.35M619.80,119.65H626.40M619.80,128.35H626.40" stroke="#0000ff" stroke-dasharray="2.2,3.1" stroke-width="0.6"/><path d="M619.80,124.00H626.40M623.10,120.70V127.30M619.80,120.70L626.40,127.30M619.80,127.30L626.40,120.70" stroke="#0000ff" stroke-width="0.92"/><rect x="144.87" y="443.82" width="6.40" height="6.40" stroke="#ff00ff"/><path d="M148.07,446.62V447.42M145.87,446.62H150.27M145.87,447.42H150.27" stroke="#ff00ff" stroke-dasharray="1,1.6"/><rect x="163.10" y="443.32" width="6.40" height="6.40" stroke="#ff00ff"/><path d="M166.30,446.12V446.92M164.10,446.12H168.50M164.10,446.92H168.50" stroke="#ff00ff" stroke-dasharray="1,1.6"/><rect x="181.35" y="442.75" width="6.40" height="6.40" stroke="#ff00ff"/><path d="M184.55,445.55V446.35M182.35,445.55H186.75M182.35,446.35H186.75" stroke="#ff00ff" stroke-dasharray="1,1.6"/><rect x="199.60" y="442.12" width="6.40" height="6.40" stroke="#ff00ff"/><path d="M202.80,444.92V445.72M200.60,444.92H205.00M200.60,445.72H205.00" stroke="#ff00ff" stroke-dasharray="1,1.6"/><rect x="217.80" y="441.40" width="6.40" height="6.40" stroke="#ff00ff"/><path d="M221.00,444.20V445.00M218.80,444.20H223.20M218.80,445.00H223.20" stroke="#ff00ff" stroke-dasharray="1,1.6"/><rect x="236.10" y="440.58" width="6.40" height="6.40" stroke="#ff00ff"/><path d="M239.30,443.38V444.18M237.10,443.38H241.50M237.10,444.18H241.50" stroke="#ff00ff" stroke-dasharray="1,1.6"/><rect x="254.10" y="439.67" width="6.40" height="6.40" stroke="#ff00ff"/><path d="M257.30,442.47V443.27M255.10,442.47H259.50M255.10,443.27H259.50" stroke="#ff00ff" stroke-dasharray="1,1.6"/><rect x="272.40" y="438.64" width="6.40" height="6.40" stroke="#ff00ff"/><path d="M275.60,441.44V442.24M273.40,441.44H277.80M273.40,442.24H277.80" stroke="#ff00ff" stroke-dasharray="1,1.6"/><rect x="290.60" y="437.47" width="6.40" height="6.40" stroke="#ff00ff"/><path d="M293.80,440.27V441.07M291.60,440.27H296.00M291.60,441.07H296.00" stroke="#ff00ff" stroke-dasharray="1,1.6"/><rect x="309.00" y="436.14" width="6.40" height="6.40" stroke="#ff00ff"/><path d="M312.20,438.94V439.74M310.00,438.94H314.40M310.00,439.74H314.40" stroke="#ff00ff" stroke-dasharray="1,1.6"/><rect x="327.30" y="434.64" width="6.40" height="6.40" stroke="#ff00ff"/><path d="M330.50,437.44V438.24M328.30,437.44H332.70M328.30,438.24H332.70" stroke="#ff00ff" stroke-dasharray="1,1.6"/><rect x="345.30" y="432.97" width="6.40" height="6.40" stroke="#ff00ff"/><path d="M348.50,435.77V436.57M346.30,435.77H350.70M346.30,436.57H350.70" stroke="#ff00ff" stroke-dasharray="1,1.6"/><rect x="363.50" y="431.05" width="6.40" height="6.40" stroke="#ff00ff"/><path d="M366.70,433.85V434.65M364.50,433.85H368.90M364.50,434.65H368.90" stroke="#ff00ff" stroke-dasharray="1,1.6"/><rect x="381.40" y="428.89" width="6.40" height="6.40" stroke="#ff00ff"/><path d="M384.60,431.69V432.49M382.40,431.69H386.80M382.40,432.49H386.80" stroke="#ff00ff" stroke-dasharray="1,1.6"/><rect x="399.40" y="426.41" width="6.40" height="6.40" stroke="#ff00ff"/><path d="M402.60,429.21V430.01M400.40,429.21H404.80M400.40,430.01H404.80" stroke="#ff00ff" stroke-dasharray="1,1.6"/><rect x="417.40" y="423.55" width="6.40" height="6.40" stroke="#ff00ff"/><path d="M420.60,426.35V427.15M418.40,426.35H422.80M418.40,427.15H422.80" stroke="#ff00ff" stroke-dasharray="1,1.6"/><rect x="433.60" y="420.60" width="6.40" height="6.40" stroke="#ff00ff"/><path d="M436.80,423.40V424.20M434.60,423.40H439.00M434.60,424.20H439.00" stroke="#ff00ff" stroke-dasharray="1,1.6"/><rect x="434.60" y="420.60" width="6.40" height="6.40" stroke="#ff00ff"/><path d="M437.80,423.40V424.20M435.60,423.40H440.00M435.60,424.20H440.00" stroke="#ff00ff" stroke-dasharray="1,1.6"/><rect x="465.10" y="413.40" width="6.40" height="6.40" stroke="#ff00ff"/><path d="M468.30,416.20V417.00M466.10,416.20H470.50M466.10,417.00H470.50" stroke="#ff00ff" stroke-dasharray="1,1.6"/><rect x="481.30" y="408.74" width="6.40" height="6.40" stroke="#ff00ff"/><path d="M484.50,411.54V412.34M482.30,411.54H486.70M482.30,412.34H486.70" stroke="#ff00ff" stroke-dasharray="1,1.6"/><rect x="492.60" y="405.00" width="6.40" height="6.40" stroke="#ff00ff"/><path d="M495.80,407.80V408.60M493.60,407.80H498.00M493.60,408.60H498.00" stroke="#ff00ff" stroke-dasharray="1,1.6"/><rect x="501.60" y="401.68" width="6.40" height="6.40" stroke="#ff00ff"/><path d="M504.80,404.48V405.28M502.60,404.48H507.00M502.60,405.28H507.00" stroke="#ff00ff" stroke-dasharray="1,1.6"/><rect x="509.10" y="398.59" width="6.40" height="6.40" stroke="#ff00ff"/><path d="M512.30,401.39V402.19M510.10,401.39H514.50M510.10,402.19H514.50" stroke="#ff00ff" stroke-dasharray="1,1.6"/><rect x="515.60" y="395.60" width="6.40" height="6.40" stroke="#ff00ff"/><path d="M518.80,398.40V399.20M516.60,398.40H521.00M516.60,399.20H521.00" stroke="#ff00ff" stroke-dasharray="1,1.6"/><rect x="521.10" y="392.77" width="6.40" height="6.40" stroke="#ff00ff"/><path d="M524.30,395.57V396.37M522.10,395.57H526.50M522.10,396.37H526.50" stroke="#ff00ff" stroke-dasharray="1,1.6"/><rect x="526.00" y="390.00" width="6.40" height="6.40" stroke="#ff00ff"/><path d="M529.20,392.80V393.60M527.00,392.80H531.40M527.00,393.60H531.40" stroke="#ff00ff" stroke-dasharray="1,1.6"/><rect x="530.30" y="387.36" width="6.40" height="6.40" stroke="#ff00ff"/><path d="M533.50,390.16V390.96M531.30,390.16H535.70M531.30,390.96H535.70" stroke="#ff00ff" stroke-dasharray="1,1.6"/><rect x="534.30" y="384.73" width="6.40" height="6.40" stroke="#ff00ff"/><path d="M537.50,387.53V388.33M535.30,387.53H539.70M535.30,388.33H539.70" stroke="#ff00ff" stroke-dasharray="1,1.6"/><rect x="537.80" y="382.30" width="6.40" height="6.40" stroke="#ff00ff"/><path d="M541.00,385.10V385.90M538.80,385.10H543.20M538.80,385.90H543.20" stroke="#ff00ff" stroke-dasharray="1,1.6"/><rect x="541.20" y="379.81" width="6.40" height="6.40" stroke="#ff00ff"/><path d="M544.40,382.61V383.41M542.20,382.61H546.60M542.20,383.41H546.60" stroke="#ff00ff" stroke-dasharray="1,1.6"/><rect x="544.10" y="377.58" width="6.40" height="6.40" stroke="#ff00ff"/><path d="M547.30,380.38V381.18M545.10,380.38H549.50M545.10,381.18H549.50" stroke="#ff00ff" stroke-dasharray="1,1.6"/><rect x="546.90" y="375.34" width="6.40" height="6.40" stroke="#ff00ff"/><path d="M550.10,378.14V378.94M547.90,378.14H552.30M547.90,378.94H552.30" stroke="#ff00ff" stroke-dasharray="1,1.6"/><rect x="550.00" y="372.74" width="6.40" height="6.40" stroke="#ff00ff"/><path d="M553.20,375.54V376.34M551.00,375.54H555.40M551.00,376.34H555.40" stroke="#ff00ff" stroke-dasharray="1,1.6"/><rect x="552.90" y="370.20" width="6.40" height="6.40" stroke="#ff00ff"/><path d="M556.10,373.00V373.80M553.90,373.00H558.30M553.90,373.80H558.30" stroke="#ff00ff" stroke-dasharray="1,1.6"/><rect x="555.70" y="367.64" width="6.40" height="6.40" stroke="#ff00ff"/><path d="M558.90,370.44V371.24M556.70,370.44H561.10M556.70,371.24H561.10" stroke="#ff00ff" stroke-dasharray="1,1.6"/><rect x="558.40" y="365.08" width="6.40" height="6.40" stroke="#ff00ff"/><path d="M561.60,367.88V368.68M559.40,367.88H563.80M559.40,368.68H563.80" stroke="#ff00ff" stroke-dasharray="1,1.6"/><rect x="561.10" y="362.41" width="6.40" height="6.40" stroke="#ff00ff"/><path d="M564.30,365.21V366.01M562.10,365.21H566.50M562.10,366.01H566.50" stroke="#ff00ff" stroke-dasharray="1,1.6"/><rect x="563.70" y="359.75" width="6.40" height="6.40" stroke="#ff00ff"/><path d="M566.90,362.55V363.35M564.70,362.55H569.10M564.70,363.35H569.10" stroke="#ff00ff" stroke-dasharray="1,1.6"/><rect x="566.20" y="357.10" width="6.40" height="6.40" stroke="#ff00ff"/><path d="M569.40,359.90V360.70M567.20,359.90H571.60M567.20,360.70H571.60" stroke="#ff00ff" stroke-dasharray="1,1.6"/><rect x="568.50" y="354.58" width="6.40" height="6.40" stroke="#ff00ff"/><path d="M571.70,357.38V358.18M569.50,357.38H573.90M569.50,358.18H573.90" stroke="#ff00ff" stroke-dasharray="1,1.6"/><rect x="570.90" y="351.82" width="6.40" height="6.40" stroke="#ff00ff"/><path d="M574.10,354.62V355.42M571.90,354.62H576.30M571.90,355.42H576.30" stroke="#ff00ff" stroke-dasharray="1,1.6"/><rect x="573.20" y="348.94" width="6.40" height="6.40" stroke="#ff00ff"/><path d="M576.40,351.74V352.54M574.20,351.74H578.60M574.20,352.54H578.60" stroke="#ff00ff" stroke-dasharray="1,1.6"/><rect x="575.40" y="346.00" width="6.40" height="6.40" stroke="#ff00ff"/><path d="M578.60,348.80V349.60M576.40,348.80H580.80M576.40,349.60H580.80" stroke="#ff00ff" stroke-dasharray="1,1.6"/><rect x="577.60" y="342.91" width="6.40" height="6.40" stroke="#ff00ff"/><path d="M580.80,345.71V346.51M578.60,345.71H583.00M578.60,346.51H583.00" stroke="#ff00ff" stroke-dasharray="1,1.6"/><rect x="579.70" y="339.84" width="6.40" height="6.40" stroke="#ff00ff"/><path d="M582.90,342.64V343.44M580.70,342.64H585.10M580.70,343.44H585.10" stroke="#ff00ff" stroke-dasharray="1,1.6"/><rect x="581.80" y="336.70" width="6.40" height="6.40" stroke="#ff00ff"/><path d="M585.00,339.50V340.30M582.80,339.50H587.20M582.80,340.30H587.20" stroke="#ff00ff" stroke-dasharray="1,1.6"/><rect x="583.70" y="333.80" width="6.40" height="6.40" stroke="#ff00ff"/><path d="M586.90,336.60V337.40M584.70,336.60H589.10M584.70,337.40H589.10" stroke="#ff00ff" stroke-dasharray="1,1.6"/><rect x="585.60" y="330.83" width="6.40" height="6.40" stroke="#ff00ff"/><path d="M588.80,333.63V334.43M586.60,333.63H591.00M586.60,334.43H591.00" stroke="#ff00ff" stroke-dasharray="1,1.6"/><rect x="587.44" y="327.83" width="6.40" height="6.40" stroke="#ff00ff"/><path d="M590.64,330.63V331.43M588.44,330.63H592.84M588.44,331.43H592.84" stroke="#ff00ff" stroke-dasharray="1,1.6"/><rect x="589.24" y="324.80" width="6.40" height="6.40" stroke="#ff00ff"/><path d="M592.44,327.60V328.40M590.24,327.60H594.64M590.24,328.40H594.64" stroke="#ff00ff" stroke-dasharray="1,1.6"/><rect x="591.01" y="321.75" width="6.40" height="6.40" stroke="#ff00ff"/><path d="M594.21,324.55V325.35M592.01,324.55H596.41M592.01,325.35H596.41" stroke="#ff00ff" stroke-dasharray="1,1.6"/><rect x="592.73" y="318.69" width="6.40" height="6.40" stroke="#ff00ff"/><path d="M595.93,321.49V322.29M593.73,321.49H598.13M593.73,322.29H598.13" stroke="#ff00ff" stroke-dasharray="1,1.6"/><rect x="594.42" y="315.63" width="6.40" height="6.40" stroke="#ff00ff"/><path d="M597.62,318.43V319.23M595.42,318.43H599.82M595.42,319.23H599.82" stroke="#ff00ff" stroke-dasharray="1,1.6"/><rect x="596.08" y="312.59" width="6.40" height="6.40" stroke="#ff00ff"/><path d="M599.28,315.39V316.19M597.08,315.39H601.48M597.08,316.19H601.48" stroke="#ff00ff" stroke-dasharray="1,1.6"/><rect x="597.69" y="309.67" width="6.40" height="6.40" stroke="#ff00ff"/><path d="M600.89,312.47V313.27M598.69,312.47H603.09M598.69,313.27H603.09" stroke="#ff00ff" stroke-dasharray="1,1.6"/><rect x="599.27" y="306.84" width="6.40" height="6.40" stroke="#ff00ff"/><path d="M602.47,309.64V310.44M600.27,309.64H604.67M600.27,310.44H604.67" stroke="#ff00ff" stroke-dasharray="1,1.6"/><rect x="600.81" y="304.00" width="6.40" height="6.40" stroke="#ff00ff"/><path d="M604.01,306.80V307.60M601.81,306.80H606.21M601.81,307.60H606.21" stroke="#ff00ff" stroke-dasharray="1,1.6"/><rect x="602.31" y="301.09" width="6.40" height="6.40" stroke="#ff00ff"/><path d="M605.51,303.89V304.69M603.31,303.89H607.71M603.31,304.69H607.71" stroke="#ff00ff" stroke-dasharray="1,1.6"/><rect x="603.78" y="298.04" width="6.40" height="6.40" stroke="#ff00ff"/><path d="M606.98,300.84V301.64M604.78,300.84H609.18M604.78,301.64H609.18" stroke="#ff00ff" stroke-dasharray="1,1.6"/><rect x="605.21" y="294.80" width="6.40" height="6.40" stroke="#ff00ff"/><path d="M608.41,297.60V298.40M606.21,297.60H610.61M606.21,298.40H610.61" stroke="#ff00ff" stroke-dasharray="1,1.6"/><rect x="606.60" y="291.25" width="6.40" height="6.40" stroke="#ff00ff"/><path d="M609.80,294.05V294.85M607.60,294.05H612.00M607.60,294.85H612.00" stroke="#ff00ff" stroke-dasharray="1,1.6"/><rect x="608.00" y="286.80" width="6.40" height="6.40" stroke="#ff00ff"/><path d="M611.20,289.60V290.40M609.00,289.60H613.40M609.00,290.40H613.40" stroke="#ff00ff" stroke-dasharray="1,1.6"/><rect x="609.40" y="283.60" width="6.40" height="6.40" stroke="#ff00ff"/><path d="M612.60,286.40V287.20M610.40,286.40H614.80M610.40,287.20H614.80" stroke="#ff00ff" stroke-dasharray="1,1.6"/><rect x="610.80" y="280.30" width="6.40" height="6.40" stroke="#ff00ff"/><path d="M614.00,283.10V283.90M611.80,283.10H616.20M611.80,283.90H616.20" stroke="#ff00ff" stroke-dasharray="1,1.6"/><rect x="612.20" y="276.40" width="6.40" height="6.40" stroke="#ff00ff"/><path d="M615.40,279.12V280.08M613.20,279.12H617.60M613.20,280.08H617.60" stroke="#ff00ff" stroke-dasharray="1,1.6"/><rect x="613.70" y="271.20" width="6.40" height="6.40" stroke="#ff00ff"/><path d="M616.90,273.00V275.80M614.70,273.00H619.10M614.70,275.80H619.10" stroke="#ff00ff" stroke-dasharray="1,1.6"/><rect x="615.60" y="262.50" width="6.40" height="6.40" stroke="#ff00ff"/><path d="M618.80,264.64V266.76M616.60,264.64H621.00M616.60,266.76H621.00" stroke="#ff00ff" stroke-dasharray="1,1.6"/><rect x="618.80" y="236.30" width="6.40" height="6.40" stroke="#ff00ff"/><path d="M622.00,237.60V241.40M619.80,237.60H624.20M619.80,241.40H624.20" stroke="#ff00ff" stroke-dasharray="1,1.6"/><rect x="619.90" y="197.00" width="6.40" height="6.40" stroke="#ff00ff"/><path d="M623.10,198.20V202.20M620.90,198.20H625.30M620.90,202.20H625.30" stroke="#ff00ff" stroke-dasharray="1,1.6"/><rect x="630.10" y="42.80" width="6.40" height="6.40" stroke="#ff00ff"/><path d="M633.30,44.00V48.00M631.10,44.00H635.50M631.10,48.00H635.50" stroke="#ff00ff" stroke-dasharray="1,1.6"/><rect x="631.50" y="30.90" width="6.40" height="6.40" stroke="#ff00ff"/><path d="M634.70,32.10V36.10M632.50,32.10H636.90M632.50,36.10H636.90" stroke="#ff00ff" stroke-dasharray="1,1.6"/>
</g>
<path d="M140.70,447.20 L141.64,447.18 L142.58,447.16 L143.52,447.14 L144.46,447.11 L145.40,447.09 L146.35,447.06 L147.29,447.04 L148.23,447.02 L149.17,446.99 L150.11,446.97 L151.05,446.94 L151.99,446.92 L152.93,446.89 L153.87,446.87 L154.81,446.84 L155.75,446.82 L156.69,446.79 L157.64,446.77 L158.58,446.74 L159.52,446.71 L160.46,446.69 L161.40,446.66 L162.34,446.63 L163.28,446.61 L164.22,446.58 L165.16,446.55 L166.10,446.53 L167.04,446.50 L167.98,446.47 L168.93,446.44 L169.87,446.42 L170.81,446.39 L171.75,446.36 L172.69,446.33 L173.63,446.30 L174.57,446.27 L175.51,446.24 L176.45,446.21 L177.39,446.19 L178.33,446.16 L179.27,446.13 L180.22,446.10 L181.16,446.07 L182.10,446.03 L183.04,446.00 L183.98,445.97 L184.92,445.94 L185.86,445.91 L186.80,445.88 L187.74,445.85 L188.68,445.82 L189.62,445.78 L190.57,445.75 L191.51,445.72 L192.45,445.69 L193.39,445.65 L194.33,445.62 L195.27,445.59 L196.21,445.56 L197.15,445.52 L198.09,445.49 L199.03,445.45 L199.97,445.42 L200.91,445.38 L201.86,445.35 L202.80,445.32 L203.74,445.28 L204.68,445.24 L205.62,445.21 L206.56,445.17 L207.50,445.14 L208.44,445.10 L209.38,445.06 L210.32,445.03 L211.26,444.99 L212.20,444.95 L213.15,444.92 L214.09,444.88 L215.03,444.84 L215.97,444.80 L216.91,444.76 L217.85,444.73 L218.79,444.69 L219.73,444.65 L220.67,444.61 L221.61,444.57 L222.55,444.53 L223.49,444.49 L224.44,444.45 L225.38,444.41 L226.32,444.37 L227.26,444.33 L228.20,444.29 L229.14,444.24 L230.08,444.20 L231.02,444.16 L231.96,444.12 L232.90,444.08 L233.84,444.03 L234.78,443.99 L235.73,443.95 L236.67,443.90 L237.61,443.86 L238.55,443.81 L239.49,443.77 L240.43,443.72 L241.37,443.68 L242.31,443.63 L243.25,443.59 L244.19,443.54 L245.13,443.50 L246.08,443.45 L247.02,443.40 L247.96,443.36 L248.90,443.31 L249.84,443.26 L250.78,443.21 L251.72,443.17 L252.66,443.12 L253.60,443.07 L254.54,443.02 L255.48,442.97 L256.42,442.92 L257.37,442.87 L258.31,442.82 L259.25,442.77 L260.19,442.72 L261.13,442.67 L262.07,442.61 L263.01,442.56 L263.95,442.51 L264.89,442.46 L265.83,442.41 L266.77,442.35 L267.71,442.30 L268.66,442.24 L269.60,442.19 L270.54,442.14 L271.48,442.08 L272.42,442.03 L273.36,441.97 L274.30,441.91 L275.24,441.86 L276.18,441.80 L277.12,441.74 L278.06,441.69 L279.00,441.63 L279.95,441.57 L280.89,441.51 L281.83,441.45 L282.77,441.39 L283.71,441.33 L284.65,441.27 L285.59,441.21 L286.53,441.15 L287.47,441.09 L288.41,441.03 L289.35,440.97 L290.30,440.91 L291.24,440.84 L292.18,440.78 L293.12,440.72 L294.06,440.65 L295.00,440.59 L295.94,440.53 L296.88,440.46 L297.82,440.39 L298.76,440.33 L299.70,440.26 L300.64,440.20 L301.59,440.13 L302.53,440.06 L303.47,439.99 L304.41,439.92 L305.35,439.86 L306.29,439.79 L307.23,439.72 L308.17,439.65 L309.11,439.58 L310.05,439.51 L310.99,439.43 L311.93,439.36 L312.88,439.29 L313.82,439.22 L314.76,439.14 L315.70,439.07 L316.64,438.99 L317.58,438.92 L318.52,438.84 L319.46,438.77 L320.40,438.69 L321.34,438.62 L322.28,438.54 L323.22,438.46 L324.17,438.38 L325.11,438.30 L326.05,438.22 L326.99,438.14 L327.93,438.06 L328.87,437.98 L329.81,437.90 L330.75,437.82 L331.69,437.74 L332.63,437.65 L333.57,437.57 L334.52,437.49 L335.46,437.40 L336.40,437.32 L337.34,437.23 L338.28,437.15 L339.22,437.06 L340.16,436.97 L341.10,436.88 L342.04,436.79 L342.98,436.71 L343.92,436.62 L344.86,436.53 L345.81,436.43 L346.75,436.34 L347.69,436.25 L348.63,436.16 L349.57,436.06 L350.51,435.97 L351.45,435.88 L352.39,435.78 L353.33,435.68 L354.27,435.59 L355.21,435.49 L356.15,435.39 L357.10,435.29 L358.04,435.19 L358.98,435.09 L359.92,434.99 L360.86,434.89 L361.80,434.79 L362.74,434.69 L363.68,434.59 L364.62,434.48 L365.56,434.38 L366.50,434.27 L367.44,434.16 L368.39,434.06 L369.33,433.95 L370.27,433.84 L371.21,433.73 L372.15,433.62 L373.09,433.51 L374.03,433.40 L374.97,433.29 L375.91,433.17 L376.85,433.06 L377.79,432.95 L378.74,432.83 L379.68,432.71 L380.62,432.60 L381.56,432.48 L382.50,432.36 L383.44,432.24 L384.38,432.12 L385.32,432.00 L386.26,431.88 L387.20,431.75 L388.14,431.63 L389.08,431.51 L390.03,431.38 L390.97,431.25 L391.91,431.13 L392.85,431.00 L393.79,430.87 L394.73,430.74 L395.67,430.61 L396.61,430.47 L397.55,430.34 L398.49,430.21 L399.43,430.07 L400.37,429.94 L401.32,429.80 L402.26,429.66 L403.20,429.52 L404.14,429.38 L405.08,429.24 L406.02,429.10 L406.96,428.96 L407.90,428.81 L408.84,428.67 L409.78,428.52 L410.72,428.37 L411.66,428.22 L412.61,428.07 L413.55,427.92 L414.49,427.77 L415.43,427.62 L416.37,427.46 L417.31,427.31 L418.25,427.15 L419.19,426.99 L420.13,426.83 L421.07,426.67 L422.01,426.51 L422.95,426.35 L423.90,426.19 L424.84,426.02 L425.78,425.85 L426.72,425.69 L427.66,425.52 L428.60,425.35 L429.54,425.17 L430.48,425.00 L431.42,424.83 L432.36,424.65 L433.30,424.47 L434.25,424.30 L435.19,424.12 L436.13,423.93 L437.07,423.75 L438.01,423.57 L438.95,423.38 L439.89,423.19 L440.83,423.00 L441.77,422.81 L442.71,422.62 L443.65,422.43 L444.59,422.23 L445.54,422.04 L446.48,421.84 L447.42,421.64 L448.36,421.44 L449.30,421.23 L450.24,421.03 L451.18,420.82 L452.12,420.61 L453.06,420.40 L454.00,420.19 L454.94,419.98 L455.88,419.76 L456.83,419.55 L457.77,419.33 L458.71,419.11 L459.65,418.89 L460.59,418.66 L461.53,418.43 L462.47,418.21 L463.41,417.98 L464.35,417.74 L465.29,417.51 L466.23,417.27 L467.17,417.04 L468.12,416.79 L469.06,416.55 L470.00,416.31 L470.94,416.06 L471.88,415.81 L472.82,415.56 L473.76,415.31 L474.70,415.05 L475.64,414.80 L476.58,414.54 L477.52,414.27 L478.47,414.01 L479.41,413.74 L480.35,413.47 L481.29,413.20 L482.23,412.93 L483.17,412.65 L484.11,412.37 L485.05,412.09 L485.99,411.81 L486.93,411.52 L487.87,411.23 L488.81,410.94 L489.76,410.64 L490.70,410.35 L491.64,410.05 L492.58,409.74 L493.52,409.44 L494.46,409.13 L495.40,408.82 L496.34,408.50 L497.28,408.19 L498.22,407.87 L499.16,407.54 L500.10,407.22 L501.05,406.89 L501.99,406.55 L502.93,406.22 L503.87,405.88 L504.81,405.54 L505.75,405.19 L506.69,404.84 L507.63,404.49 L508.57,404.13 L509.51,403.77 L510.45,403.41 L511.39,403.04 L512.34,402.67 L513.28,402.30 L514.22,401.92 L515.16,401.54 L516.10,401.16 L517.04,400.77 L517.98,400.38 L518.92,399.98 L519.86,399.58 L520.80,399.17 L521.74,398.77 L522.69,398.35 L523.63,397.94 L524.57,397.51 L525.51,397.09 L526.45,396.66 L527.39,396.22 L528.33,395.79 L529.27,395.34 L530.21,394.89 L531.15,394.44 L532.09,393.98 L533.03,393.52 L533.98,393.05 L534.92,392.58 L535.86,392.10 L536.80,391.62 L537.74,391.13 L538.68,390.64 L539.62,390.14 L540.56,389.64 L541.50,389.13 L542.44,388.62 L543.38,388.10 L544.32,387.57 L545.27,387.04 L546.21,386.50 L547.15,385.96 L548.09,385.41 L549.03,384.85 L549.97,384.29 L550.91,383.73 L551.85,383.15 L552.79,382.57 L553.73,381.98 L554.67,381.39 L555.61,380.79 L556.56,380.18 L557.50,379.57 L558.44,378.95 L559.38,378.32 L560.32,377.68 L561.26,377.04 L562.20,376.39 L563.14,375.73 L564.08,375.07 L565.02,374.39 L565.96,373.71 L566.91,373.02 L567.85,372.32 L568.79,371.62 L569.73,370.90 L570.67,370.18 L571.61,369.45 L572.55,368.71 L573.49,367.96 L574.43,367.20 L575.37,366.43 L576.31,365.66 L577.25,364.87 L578.20,364.08 L579.14,363.27 L580.08,362.45 L581.02,361.63 L581.96,360.79 L582.90,359.95 L583.84,359.09 L584.78,358.22 L585.72,357.34 L586.66,356.45 L587.60,355.55 L588.54,354.64 L589.49,353.72 L590.43,352.78 L591.37,351.83 L592.31,350.87 L593.25,349.90 L594.19,348.91 L595.13,347.92 L596.07,346.91 L597.01,345.88 L597.95,344.84 L598.89,343.79 L599.83,342.73 L600.78,341.65 L601.72,340.55 L602.66,339.45 L603.60,338.32 L604.54,337.18 L605.48,336.03 L606.42,334.86 L607.36,333.67 L608.30,332.47 L609.24,331.26 L610.18,330.02 L611.12,328.77 L612.07,327.50 L613.01,326.21 L613.95,324.91 L614.89,323.59 L615.83,322.24 L616.77,320.88 L617.71,319.50 L618.65,318.11 L619.59,316.69 L620.53,315.25 L621.47,313.79 L622.42,312.31 L623.36,310.81 L624.30,309.28 L625.24,307.74 L626.18,306.17 L627.12,304.58 L628.06,302.96 L629.00,301.32 L629.94,299.66 L630.88,297.97 L631.82,296.26 L632.76,294.52 L633.71,292.76 L634.65,290.97 L635.59,289.15 L636.53,287.31 L637.47,285.43 L638.41,283.53 L639.35,281.60 L640.29,279.64 L641.23,277.65 L642.17,275.63 L643.11,273.57 L644.05,271.49 L645.00,269.37 L645.94,267.22 L646.88,265.04 L647.82,262.82 L648.76,260.57 L649.70,258.28 L650.64,255.95 L651.58,253.58 L652.52,251.18 L653.46,248.74 L654.40,246.26 L655.34,243.74 L656.29,241.18 L657.23,238.58 L658.17,235.93 L659.11,233.24 L660.05,230.51 L660.99,227.73 L661.93,224.90 L662.87,222.03 L663.81,219.10 L664.75,216.13 L665.69,213.11 L666.64,210.04 L667.58,206.91 L668.52,203.74 L669.46,200.50 L670.40,197.21 L671.34,193.87 L672.28,190.47 L673.22,187.00 L674.16,183.48 L675.10,179.89 L676.04,176.24 L676.98,172.53 L677.93,168.75 L678.87,164.91 L679.81,160.99 L680.75,157.01 L681.69,152.95 L682.63,148.82 L683.57,144.61 L684.51,140.33 L685.45,135.97 L686.39,131.53 L687.33,127.01 L688.27,122.40 L689.22,117.71 L690.16,112.93 L691.10,108.06 L692.04,103.10 L692.98,98.05 L693.92,92.90 L694.86,87.66 L695.80,82.31 L696.74,76.86 L697.68,71.31 L698.62,65.65 L699.56,59.88 L700.51,54.00 L701.45,48.00 L702.39,41.89 L703.33,35.66 L704.27,29.30" fill="none" stroke="#000" stroke-width="0.75" stroke-dasharray="6.28,2.05,1,2.047" stroke-dashoffset="4.36"/>
<path d="M141.00,133.60H712.40" stroke="#000" stroke-width="1.4" fill="none" stroke-linejoin="round"/>
<path d="M622.50,29.30V450.00" stroke="#000" stroke-width="1.4" fill="none" stroke-linejoin="round"/>
<path d="M685.70,29.30V450.00" stroke="#000" stroke-width="1.4" fill="none" stroke-linejoin="round"/>
<rect x="141.00" y="29.30" width="571.40" height="420.70" stroke="#000" stroke-width="1.4" fill="none" stroke-linejoin="round"/>
<path d="M140.70,450.00V443.70M140.70,29.30V35.60M259.80,450.00V443.70M259.80,29.30V35.60M378.90,450.00V443.70M378.90,29.30V35.60M498.00,450.00V443.70M498.00,29.30V35.60M617.10,450.00V443.70M617.10,29.30V35.60M141.00,450.00H147.30M712.40,450.00H706.10M141.00,365.86H147.30M712.40,365.86H706.10M141.00,281.72H147.30M712.40,281.72H706.10M141.00,197.58H147.30M712.40,197.58H706.10M141.00,113.44H147.30M712.40,113.44H706.10M141.00,29.30H147.30M712.40,29.30H706.10" stroke="#000" stroke-width="1.4" fill="none" stroke-linejoin="round"/>
<g style="filter:grayscale(1)">
<text transform="matrix(0.05714 0 0 0.05200 115.586 455.475)" font-size="400" stroke="#fff" stroke-width="5.50" paint-order="fill stroke">0</text>
<text transform="matrix(0.05733 0 0 0.05200 86.383 371.335)" font-size="400" stroke="#fff" stroke-width="5.49" paint-order="fill stroke">0.05</text>
<text transform="matrix(0.05525 0 0 0.05200 98.009 287.195)" font-size="400" stroke="#fff" stroke-width="5.60" paint-order="fill stroke">0.1</text>
<text transform="matrix(0.05689 0 0 0.05200 86.589 203.055)" font-size="400" stroke="#fff" stroke-width="5.52" paint-order="fill stroke">0.15</text>
<text transform="matrix(0.05845 0 0 0.05200 97.869 118.915)" font-size="400" stroke="#fff" stroke-width="5.44" paint-order="fill stroke">0.2</text>
<text transform="matrix(0.05763 0 0 0.05200 86.380 34.775)" font-size="400" stroke="#fff" stroke-width="5.48" paint-order="fill stroke">0.25</text>
<text transform="matrix(0.05867 0 0 0.05345 129.817 478.466)" font-size="400" stroke="#fff" stroke-width="5.36" paint-order="fill stroke">0.2</text>
<text transform="matrix(0.05719 0 0 0.05345 243.385 478.466)" font-size="400" stroke="#fff" stroke-width="5.43" paint-order="fill stroke">0.25</text>
<text transform="matrix(0.05789 0 0 0.05345 368.026 478.466)" font-size="400" stroke="#fff" stroke-width="5.39" paint-order="fill stroke">0.3</text>
<text transform="matrix(0.05719 0 0 0.05345 481.585 478.466)" font-size="400" stroke="#fff" stroke-width="5.43" paint-order="fill stroke">0.35</text>
<text transform="matrix(0.05714 0 0 0.05345 606.236 478.466)" font-size="400" stroke="#fff" stroke-width="5.43" paint-order="fill stroke">0.4</text>
<text transform="matrix(0.07230 0 0 0.05419 403.444 512.461)" font-size="400" font-style="italic" stroke="#fff" stroke-width="4.79" paint-order="fill stroke">u</text>
<text transform="matrix(0.05156 0 0 0.05993 418.456 512.656)" font-size="400" stroke="#fff" stroke-width="5.40" paint-order="fill stroke">(</text>
<text transform="matrix(0.05459 0 0 0.05467 426.882 511.817)" font-size="400" font-style="italic" stroke="#fff" stroke-width="5.49" paint-order="fill stroke">β</text>
<text transform="matrix(0.05741 0 0 0.05993 440.182 512.656)" font-size="400" stroke="#fff" stroke-width="5.11" paint-order="fill stroke">)</text>
<text transform="matrix(0 -0.03800 0.04167 0 43.000 237.588)" font-size="400" stroke="#fff" stroke-width="1.51" paint-order="fill stroke">1</text>
<text transform="matrix(0 -0.06459 0.05316 0 628.068 421.111)" font-size="400" font-style="italic" stroke="#fff" stroke-width="5.12" paint-order="fill stroke">u</text>
<text transform="matrix(0 -0.04622 0.06156 0 628.214 406.178)" font-size="400" stroke="#fff" stroke-width="5.62" paint-order="fill stroke">(</text>
<text transform="matrix(0 -0.06447 0.05413 0 627.663 398.494)" font-size="400" font-style="italic" stroke="#fff" stroke-width="5.08" paint-order="fill stroke">β</text>
<text transform="matrix(0 -0.04030 0.03400 0 632.188 386.352)" font-size="400" font-style="italic" stroke="#fff" stroke-width="1.62" paint-order="fill stroke">c</text>
<text transform="matrix(0 -0.05365 0.06156 0 628.214 377.671)" font-size="400" stroke="#fff" stroke-width="5.22" paint-order="fill stroke">)</text>
<text transform="matrix(0 -0.06637 0.05729 0 695.042 421.144)" font-size="400" font-style="italic" stroke="#fff" stroke-width="4.87" paint-order="fill stroke">u</text>
<text transform="matrix(0 -0.04622 0.06129 0 694.337 405.878)" font-size="400" stroke="#fff" stroke-width="5.64" paint-order="fill stroke">(</text>
<text transform="matrix(0 -0.06071 0.05333 0 693.633 398.541)" font-size="400" font-style="italic" stroke="#fff" stroke-width="5.27" paint-order="fill stroke">β</text>
<text transform="matrix(0 -0.03852 0.03850 0 697.759 386.641)" font-size="400" font-style="italic" stroke="#fff" stroke-width="1.56" paint-order="fill stroke">c</text>
<text transform="matrix(0 -0.03022 0.03715 0 680.149 383.678)" font-size="400" stroke="#fff" stroke-width="1.79" paint-order="fill stroke">(</text>
<text transform="matrix(0 -0.04174 0.03850 0 682.359 377.900)" font-size="400" font-style="italic" stroke="#fff" stroke-width="1.50" paint-order="fill stroke">s</text>
<text transform="matrix(0 -0.03200 0.03850 0 682.359 371.500)" font-size="400" font-style="italic" stroke="#fff" stroke-width="1.71" paint-order="fill stroke">c</text>
<text transform="matrix(0 -0.03953 0.03715 0 680.149 364.594)" font-size="400" stroke="#fff" stroke-width="1.57" paint-order="fill stroke">)</text>
<text transform="matrix(0 -0.06400 0.06129 0 694.337 357.200)" font-size="400" stroke="#fff" stroke-width="4.79" paint-order="fill stroke">)</text>
<text transform="matrix(0.06171 0 0 0.06218 250.743 175.511)" font-size="400" font-style="italic" stroke="#fff" stroke-width="4.84" paint-order="fill stroke">O</text>
<text transform="matrix(0.05244 0 0 0.06129 270.244 175.137)" font-size="400" stroke="#fff" stroke-width="5.29" paint-order="fill stroke">(</text>
<text transform="matrix(0.03667 0 0 0.03758 291.854 166.600)" font-size="400" stroke="#fff" stroke-width="1.62" paint-order="fill stroke">1</text>
<text transform="matrix(0.03800 0 0 0.03870 291.613 180.500)" font-size="400" stroke="#fff" stroke-width="1.56" paint-order="fill stroke">1</text>
<text transform="matrix(0.05459 0 0 0.06129 301.018 175.137)" font-size="400" stroke="#fff" stroke-width="5.19" paint-order="fill stroke">)</text>
<text transform="matrix(0.06171 0 0 0.06218 250.743 202.711)" font-size="400" font-style="italic" stroke="#fff" stroke-width="4.84" paint-order="fill stroke">O</text>
<text transform="matrix(0.05244 0 0 0.06129 270.244 202.337)" font-size="400" stroke="#fff" stroke-width="5.29" paint-order="fill stroke">(</text>
<text transform="matrix(0.03259 0 0 0.03673 292.389 193.570)" font-size="400" stroke="#fff" stroke-width="1.73" paint-order="fill stroke">3</text>
<text transform="matrix(0.03800 0 0 0.03870 291.613 207.700)" font-size="400" stroke="#fff" stroke-width="1.56" paint-order="fill stroke">1</text>
<text transform="matrix(0.05459 0 0 0.06129 301.018 202.337)" font-size="400" stroke="#fff" stroke-width="5.19" paint-order="fill stroke">)</text>
<text transform="matrix(0.06171 0 0 0.06218 250.743 229.911)" font-size="400" font-style="italic" stroke="#fff" stroke-width="4.84" paint-order="fill stroke">O</text>
<text transform="matrix(0.05244 0 0 0.06129 270.244 229.537)" font-size="400" stroke="#fff" stroke-width="5.29" paint-order="fill stroke">(</text>
<text transform="matrix(0.03259 0 0 0.03758 292.389 220.765)" font-size="400" stroke="#fff" stroke-width="1.71" paint-order="fill stroke">5</text>
<text transform="matrix(0.03800 0 0 0.03870 291.613 234.900)" font-size="400" stroke="#fff" stroke-width="1.56" paint-order="fill stroke">1</text>
<text transform="matrix(0.05459 0 0 0.06129 301.018 229.537)" font-size="400" stroke="#fff" stroke-width="5.19" paint-order="fill stroke">)</text>
<text transform="matrix(0.05953 0 0 0.05532 187.228 256.959)" font-size="400" stroke="#fff" stroke-width="5.23" paint-order="fill stroke">including</text>
<text transform="matrix(0.05200 0 0 0.04284 297.750 260.700)" font-size="400" font-style="italic" stroke="#fff" stroke-width="6.36" paint-order="fill stroke">n</text>
<text transform="matrix(0.06070 0 0 0.05261 157.041 283.797)" font-size="400" stroke="#fff" stroke-width="5.31" paint-order="fill stroke">strong coupling</text>
</g>
<path d="M25.61,247.94Q23.84,247.28 24.80,245.98L39.30,239.76L39.62,239.00" fill="none" stroke="#000" stroke-width="1.45" stroke-linejoin="round"/><path d="M32.53,243.36L39.70,249.46" fill="none" stroke="#000" stroke-width="0.95"/><path d="M280.93,160.88Q281.57,159.14 282.85,160.09L288.95,174.31L289.70,174.63" fill="none" stroke="#000" stroke-width="1.45" stroke-linejoin="round"/><path d="M285.42,167.67L279.43,174.70" fill="none" stroke="#000" stroke-width="0.95"/><path d="M280.93,188.08Q281.57,186.34 282.85,187.29L288.95,201.51L289.70,201.83" fill="none" stroke="#000" stroke-width="1.45" stroke-linejoin="round"/><path d="M285.42,194.87L279.43,201.90" fill="none" stroke="#000" stroke-width="0.95"/><path d="M280.93,215.28Q281.57,213.54 282.85,214.49L288.95,228.71L289.70,229.03" fill="none" stroke="#000" stroke-width="1.45" stroke-linejoin="round"/><path d="M285.42,222.07L279.43,229.10" fill="none" stroke="#000" stroke-width="0.95"/><path d="M287.84,242.98Q288.49,241.24 289.79,242.19L295.94,256.41L296.70,256.73" fill="none" stroke="#000" stroke-width="1.45" stroke-linejoin="round"/><path d="M292.38,249.77L286.33,256.81" fill="none" stroke="#000" stroke-width="0.95"/>
<g fill="none" stroke-width="0.80">
<path d="M323.50,169.30H384.90M323.50,166.00V172.60M384.90,166.00V172.60" stroke="#ff0000"/>
<path d="M350.50,169.30H357.10M353.80,166.00V172.60" stroke="#ff0000"/>
<path d="M323.50,196.50H384.90M323.50,193.20V199.80M384.90,193.20V199.80" stroke="#00ff00" stroke-dasharray="4.2,2"/>
<path d="M350.50,193.20L357.10,199.80M350.50,199.80L357.10,193.20" stroke="#00ff00"/>
<path d="M323.50,223.70H384.90M323.50,220.40V227.00M384.90,220.40V227.00" stroke="#0000ff" stroke-dasharray="2.2,3.1"/>
<path d="M350.50,223.70H357.10M353.80,220.40V227.00M350.50,220.40L357.10,227.00M350.50,227.00L357.10,220.40" stroke="#0000ff" stroke-width="0.92"/>
<path d="M323.50,250.90H384.90M323.50,248.00V253.80M384.90,248.00V253.80" stroke="#ff00ff" stroke-dasharray="1,1.6"/>
<rect x="350.60" y="247.70" width="6.40" height="6.40" stroke="#ff00ff"/>
</g>
<path d="M323.50,278.40H384.90" fill="none" stroke="#000" stroke-width="0.75" stroke-dasharray="6.3,2.05,1,2.06"/>
</svg></body></html>
